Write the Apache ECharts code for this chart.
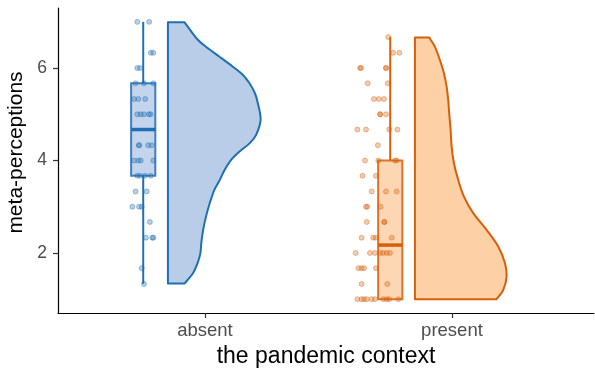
<!DOCTYPE html>
<html>
<head>
<meta charset="utf-8">
<script src="https://cdn.jsdelivr.net/npm/echarts@6/dist/echarts.min.js"></script>
<style>
  html, body { margin: 0; padding: 0; background: #fff; }
  #chart { width: 595px; height: 372px; }
</style>
</head>
<body>
<div id="chart"></div>
<script>
// groups on the x axis (1 = absent, 2 = present)
const categories = ['absent', 'present']
const yTicks = [2, 4, 6]

// boxplot stats: [lower whisker, Q1, median, Q3, upper whisker]
const absentBox = [1.33, 3.67, 4.67, 5.67, 7.0]
const presentBox = [1.0, 1.0, 2.17, 4.0, 6.67]

// half-violin outline: density level (value) and relative width
const absentDensY = [6.99, 6.64, 6.46, 6.24, 6.03, 5.85, 5.67, 5.45, 5.24, 4.88, 4.55, 4.37, 4.19, 4.01, 3.79, 3.58, 3.36, 3.07, 2.78, 2.5, 2.21, 1.99, 1.78, 1.56, 1.34]
const absentDensW = [0.18, 0.31, 0.41, 0.56, 0.70, 0.81, 0.88, 0.94, 0.97, 1.0, 0.95, 0.88, 0.77, 0.68, 0.61, 0.56, 0.50, 0.45, 0.41, 0.38, 0.36, 0.35, 0.32, 0.27, 0.18]
const presentDensY = [6.66, 6.46, 6.17, 5.89, 5.6, 5.31, 5.02, 4.66, 4.3, 3.94, 3.58, 3.22, 2.86, 2.5, 2.14, 1.78, 1.49, 1.2, 1.0]
const presentDensW = [0.154, 0.216, 0.270, 0.313, 0.342, 0.359, 0.370, 0.385, 0.396, 0.421, 0.467, 0.529, 0.629, 0.773, 0.899, 0.971, 0.989, 0.953, 0.881]

// raw points: [jitter from group centre, value]
const absentPoints = [
  [-0.274, 7.0], [-0.226, 7.0],
  [-0.219, 6.33], [-0.209, 6.33],
  [-0.274, 6.0], [-0.263, 6.0],
  [-0.281, 5.67], [-0.247, 5.67], [-0.209, 5.67],
  [-0.287, 5.33], [-0.270, 5.33], [-0.242, 5.33],
  [-0.274, 5.0], [-0.260, 5.0], [-0.247, 5.0], [-0.227, 5.0], [-0.220, 5.0],
  [-0.267, 4.33], [-0.267, 4.33], [-0.230, 4.33], [-0.216, 4.33],
  [-0.287, 4.0], [-0.270, 4.0], [-0.260, 4.0], [-0.209, 4.0],
  [-0.274, 3.67], [-0.263, 3.67], [-0.243, 3.67], [-0.220, 3.67],
  [-0.281, 3.33], [-0.236, 3.33],
  [-0.294, 3.0], [-0.267, 3.0], [-0.256, 3.0],
  [-0.223, 2.67],
  [-0.239, 2.33], [-0.213, 2.33], [-0.209, 2.33],
  [-0.256, 1.67],
  [-0.247, 1.33]
]
const presentPoints = [
  [-0.258, 6.67],
  [-0.238, 6.33], [-0.213, 6.33],
  [-0.372, 6.0], [-0.368, 6.0], [-0.267, 6.0], [-0.267, 6.0],
  [-0.341, 5.67], [-0.260, 5.67],
  [-0.316, 5.33], [-0.296, 5.33], [-0.275, 5.33],
  [-0.291, 5.0], [-0.291, 5.0], [-0.267, 5.0],
  [-0.383, 4.67], [-0.348, 4.67], [-0.254, 4.67], [-0.221, 4.67],
  [-0.300, 4.33],
  [-0.352, 4.0], [-0.298, 4.0], [-0.231, 4.0], [-0.224, 4.0],
  [-0.362, 3.67], [-0.308, 3.67],
  [-0.325, 3.33], [-0.267, 3.33], [-0.224, 3.33],
  [-0.348, 3.0], [-0.343, 3.0], [-0.289, 3.0],
  [-0.345, 2.67], [-0.274, 2.67], [-0.274, 2.67],
  [-0.366, 2.33], [-0.319, 2.33], [-0.309, 2.33], [-0.244, 2.33],
  [-0.390, 2.0], [-0.332, 2.0], [-0.312, 2.0], [-0.291, 2.0], [-0.279, 2.0], [-0.264, 2.0], [-0.251, 2.0],
  [-0.379, 1.67], [-0.366, 1.67], [-0.356, 1.67], [-0.308, 1.67],
  [-0.366, 1.33], [-0.262, 1.33],
  [-0.383, 1.0], [-0.366, 1.0], [-0.356, 1.0], [-0.345, 1.0], [-0.325, 1.0],
  [-0.312, 1.0], [-0.278, 1.0], [-0.264, 1.0], [-0.254, 1.0], [-0.217, 1.0]
]

const colors = [
  { line: '#1F6FB4', fill: '#B9CDE9', dot: 'rgba(31,111,180,0.4)', dotEdge: 'rgba(31,111,180,0.6)' },
  { line: '#D65F0A', fill: '#FDD0A6', dot: 'rgba(214,95,10,0.4)', dotEdge: 'rgba(214,95,10,0.6)' }
]

const boxes = [absentBox, presentBox]
const violins = [
  { ys: absentDensY, ws: absentDensW },
  { ys: presentDensY, ws: presentDensW }
]

// layout offsets in x-axis units
const BOX_SHIFT = -0.25
const BOX_HALF = 0.049
const VIOLIN_SHIFT = -0.15
const VIOLIN_SCALE = 0.3753

// catmull-rom through pixel points -> svg path segments
function smoothPath(pts) {
  let d = ''
  for (let i = 0; i < pts.length - 1; i++) {
    const p0 = pts[Math.max(i - 1, 0)]
    const p1 = pts[i]
    const p2 = pts[i + 1]
    const p3 = pts[Math.min(i + 2, pts.length - 1)]
    const c1 = [p1[0] + (p2[0] - p0[0]) / 6, p1[1] + (p2[1] - p0[1]) / 6]
    const c2 = [p2[0] - (p3[0] - p1[0]) / 6, p2[1] - (p3[1] - p1[1]) / 6]
    d += ` C${c1[0]},${c1[1]} ${c2[0]},${c2[1]} ${p2[0]},${p2[1]}`
  }
  return d
}

function renderViolin(params, api) {
  const g = params.dataIndex
  const center = api.value(0)
  const { ys, ws } = violins[g]
  const left = center + VIOLIN_SHIFT
  const curve = ys.map((y, i) => api.coord([left + ws[i] * VIOLIN_SCALE, y]))
  const topLeft = api.coord([left, ys[0]])
  const botLeft = api.coord([left, ys[ys.length - 1]])
  const d = `M${topLeft[0]},${topLeft[1]} L${curve[0][0]},${curve[0][1]}` +
    smoothPath(curve) + ` L${botLeft[0]},${botLeft[1]} Z`
  return {
    type: 'path',
    shape: { pathData: d },
    style: { fill: colors[g].fill, stroke: colors[g].line, lineWidth: 2, lineJoin: 'round' }
  }
}

function renderBox(params, api) {
  const g = params.dataIndex
  const center = api.value(0) + BOX_SHIFT
  const [lo, q1, med, q3, hi] = boxes[g]
  const pLo = api.coord([center, lo])
  const pHi = api.coord([center, hi])
  const tl = api.coord([center - BOX_HALF, q3])
  const br = api.coord([center + BOX_HALF, q1])
  const mL = api.coord([center - BOX_HALF, med])
  const mR = api.coord([center + BOX_HALF, med])
  const stroke = { stroke: colors[g].line, lineWidth: 2 }
  return {
    type: 'group',
    children: [
      { type: 'line', shape: { x1: pLo[0], y1: pLo[1], x2: pLo[0], y2: br[1] }, style: stroke },
      { type: 'line', shape: { x1: pHi[0], y1: pHi[1], x2: pHi[0], y2: tl[1] }, style: stroke },
      { type: 'rect', shape: { x: tl[0], y: tl[1], width: br[0] - tl[0], height: br[1] - tl[1] },
        style: { fill: colors[g].fill, opacity: 0.85, stroke: colors[g].line, lineWidth: 2 } },
      { type: 'line', shape: { x1: mL[0], y1: mL[1], x2: mR[0], y2: mR[1] },
        style: { stroke: colors[g].line, lineWidth: 3.5 } }
    ]
  }
}

const pointSeries = [absentPoints, presentPoints].map((pts, g) => ({
  type: 'scatter',
  data: pts.map(p => [g + 1 + p[0], p[1]]),
  symbolSize: 5,
  itemStyle: { color: colors[g].dot, borderColor: colors[g].dotEdge, borderWidth: 0.8 },
  z: 4,
  silent: true
}))

const chart = echarts.init(document.getElementById('chart'))
chart.setOption({
  animation: false,
  backgroundColor: '#fff',
  textStyle: { fontFamily: 'Liberation Sans, Arial, sans-serif' },
  grid: { left: 58, right: 1, top: 8, bottom: 59, containLabel: false, outerBoundsMode: 'none' },
  xAxis: {
    type: 'value',
    min: 0.405,
    max: 2.575,
    name: 'the pandemic context',
    nameLocation: 'middle',
    nameGap: 31,
    nameTextStyle: { color: '#000', fontSize: 23 },
    splitLine: { show: false },
    axisLine: { lineStyle: { color: '#000', width: 1.2 } },
    axisTick: { length: 5, lineStyle: { color: '#333', width: 1.2 }, customValues: [1, 2] },
    axisLabel: {
      color: '#4D4D4D', fontSize: 18.5, margin: 8,
      customValues: [1, 2],
      formatter: v => categories[Math.round(v) - 1] || ''
    }
  },
  yAxis: {
    type: 'value',
    min: 0.7,
    max: 7.3,
    name: 'meta-perceptions',
    nameLocation: 'middle',
    nameGap: 26,
    nameTextStyle: { color: '#000', fontSize: 21, padding: [0, 0, 0, 16] },
    splitLine: { show: false },
    axisLine: { show: true, lineStyle: { color: '#000', width: 1.2 } },
    axisTick: { show: true, length: 5, lineStyle: { color: '#333', width: 1.2 }, customValues: yTicks },
    axisLabel: { color: '#4D4D4D', fontSize: 17.5, margin: 11, customValues: yTicks }
  },
  series: [
    {
      type: 'custom',
      renderItem: renderViolin,
      data: [[1, 4], [2, 4]],
      encode: { x: 0, y: 1 },
      z: 2,
      silent: true
    },
    {
      type: 'custom',
      renderItem: renderBox,
      data: [[1, 4], [2, 4]],
      encode: { x: 0, y: 1 },
      z: 3,
      silent: true
    },
    ...pointSeries
  ]
})
</script>
</body>
</html>
